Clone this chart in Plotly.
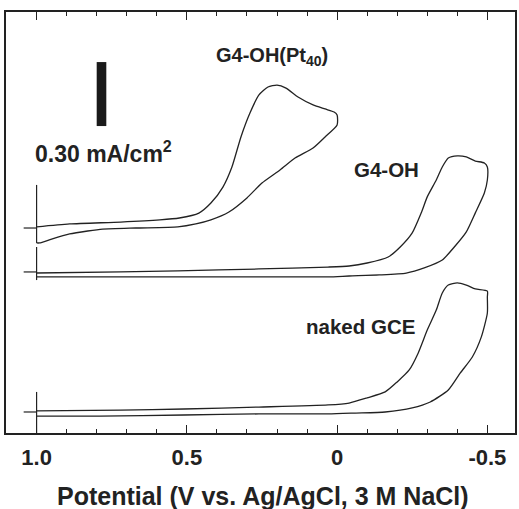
import plotly.graph_objects as go

# ---------------- data ----------------
# Potentials (V vs Ag/AgCl) along each cyclic sweep (1.0 V -> negative limit -> back)
pt40_E = [1.00, 0.89, 0.72, 0.59, 0.525, 0.46, 0.42, 0.38, 0.35, 0.32, 0.29, 0.26, 0.23,
          0.20, 0.17, 0.13, 0.08, 0.04, 0.01, 0.00, 0.00,
          0.04, 0.08, 0.14, 0.19, 0.25, 0.30, 0.36, 0.42, 0.47, 0.53, 0.67, 0.78, 0.83,
          0.89, 0.95, 0.99, 1.00]
pt40_I = [0.005, 0.019, 0.028, 0.038, 0.047, 0.070, 0.117, 0.192, 0.286, 0.427, 0.539, 0.624,
          0.661, 0.670, 0.656, 0.614, 0.577, 0.558, 0.544, 0.530, 0.483,
          0.427, 0.375, 0.328, 0.272, 0.211, 0.141, 0.075, 0.038, 0.019, 0.005, 0.000,
          -0.005, -0.014, -0.028, -0.052, -0.070, -0.070]

g4_E = [1.00, 0.72, 0.53, 0.26, 0.03, -0.04, -0.10, -0.17, -0.21, -0.25, -0.28, -0.30, -0.33,
        -0.35, -0.37, -0.40, -0.43, -0.46, -0.49, -0.50, -0.50,
        -0.49, -0.46, -0.43, -0.39, -0.35, -0.29, -0.23, -0.14, -0.04, 0.03, 0.26, 0.53,
        0.79, 1.00]
g4_I = [-0.005, 0.000, 0.005, 0.014, 0.023, 0.028, 0.042, 0.070, 0.117, 0.183, 0.277, 0.352,
        0.431, 0.492, 0.534, 0.544, 0.539, 0.520, 0.511, 0.492, 0.431,
        0.370, 0.277, 0.188, 0.117, 0.056, 0.019, -0.005, -0.014, -0.019, -0.023, -0.023,
        -0.023, -0.023, -0.023]

gce_E = [1.00, 0.72, 0.51, 0.26, 0.03, -0.04, -0.10, -0.16, -0.20, -0.24, -0.27, -0.30, -0.33,
         -0.35, -0.37, -0.40, -0.43, -0.46, -0.50, -0.50, -0.50,
         -0.48, -0.45, -0.41, -0.37, -0.31, -0.25, -0.16, -0.06, 0.03, 0.26, 0.51, 0.79, 1.00]
gce_I = [0.005, 0.009, 0.014, 0.023, 0.033, 0.042, 0.066, 0.094, 0.141, 0.197, 0.277, 0.384,
         0.478, 0.558, 0.595, 0.605, 0.595, 0.577, 0.567, 0.539, 0.464,
         0.352, 0.258, 0.183, 0.103, 0.047, 0.019, 0.000, -0.005, -0.009, -0.009, -0.014,
         -0.019, -0.019]

curve_names = ["G4-OH(Pt<sub>40</sub>)", "G4-OH", "naked GCE"]
x_ticks = [1.0, 0.5, 0.0, -0.5]
x_tick_labels = ["1.0", "0.5", "0", "-0.5"]
scale_bar_value = 0.30  # mA/cm2

# vertical offsets (zero-current levels) of the stacked voltammograms
offsets = [0.961, 0.755, 0.0985]

INK = "#222222"
FONT = "Liberation Sans, Arial, Helvetica, sans-serif"

fig = go.Figure()
for E, I, off in [(pt40_E, pt40_I, offsets[0]), (g4_E, g4_I, offsets[1]), (gce_E, gce_I, offsets[2])]:
    fig.add_trace(go.Scatter(x=E, y=[v + off for v in I], mode="lines",
                             line=dict(color=INK, width=1.3, shape="spline", smoothing=0.6),
                             showlegend=False, hoverinfo="skip"))

# zero-current markers (crosses at 1.0 V)
marks = [(offsets[0], 0.202, -0.070), (offsets[1], 0.117, -0.038), (offsets[2], 0.094, -0.0985)]
for off, up, dn in marks:
    fig.add_shape(type="line", x0=1.043, x1=1.0, y0=off, y1=off, line=dict(color=INK, width=1.2))
    fig.add_shape(type="line", x0=1.0, x1=1.0, y0=off + dn, y1=off + up, line=dict(color=INK, width=1.2))

# scale bar
fig.add_shape(type="rect", x0=0.800, x1=0.768, y0=1.439, y1=1.439 + scale_bar_value,
              fillcolor="#1a1a1a", line=dict(width=0))

fig.add_annotation(x=1.012, y=1.317, xref="x", yref="y", text="%.2f mA/cm<sup>2</sup>" % scale_bar_value,
                   showarrow=False, xanchor="left", yanchor="middle",
                   font=dict(family=FONT, size=23, color=INK, weight="bold"))
fig.add_annotation(x=0.409, y=1.765, xref="x", yref="y", text=curve_names[0],
                   showarrow=False, xanchor="left", yanchor="middle",
                   font=dict(family=FONT, size=20, color=INK, weight="bold"))
fig.add_annotation(x=-0.048, y=1.233, xref="x", yref="y", text=curve_names[1],
                   showarrow=False, xanchor="left", yanchor="middle",
                   font=dict(family=FONT, size=20.5, color=INK, weight="bold"))
fig.add_annotation(x=0.111, y=0.497, xref="x", yref="y", text=curve_names[2],
                   showarrow=False, xanchor="left", yanchor="middle",
                   font=dict(family=FONT, size=20.5, color=INK, weight="bold"))
fig.add_annotation(x=0.505, y=-0.150, xref="paper", yref="paper",
                   text="Potential (V vs. Ag/AgCl, 3 M NaCl)",
                   showarrow=False, xanchor="center", yanchor="middle",
                   font=dict(family=FONT, size=25, color=INK, weight="bold"))

fig.update_xaxes(range=[1.1018, -0.592], tickvals=x_ticks, ticktext=x_tick_labels,
                 ticks="inside", ticklen=8, tickwidth=1.2, tickcolor=INK,
                 minor=dict(dtick=0.1, tick0=0, ticks="inside", ticklen=4, tickwidth=1.2, tickcolor=INK),
                 showline=True, linecolor=INK, linewidth=1.5, mirror="ticks",
                 showgrid=False, zeroline=False, ticklabelstandoff=4,
                 tickfont=dict(family=FONT, size=22, color=INK, weight="bold"))
fig.update_yaxes(range=[0, 1.9737], showticklabels=False, ticks="",
                 showline=True, linecolor=INK, linewidth=1.5, mirror=True,
                 showgrid=False, zeroline=False)

fig.update_layout(width=519, height=509, margin=dict(l=6, r=2, t=12, b=76),
                  plot_bgcolor="white", paper_bgcolor="white")

fig.write_html("out.html", config={"displayModeBar": False},
               post_script="document.body.style.margin='0';document.body.style.overflow='hidden';")
